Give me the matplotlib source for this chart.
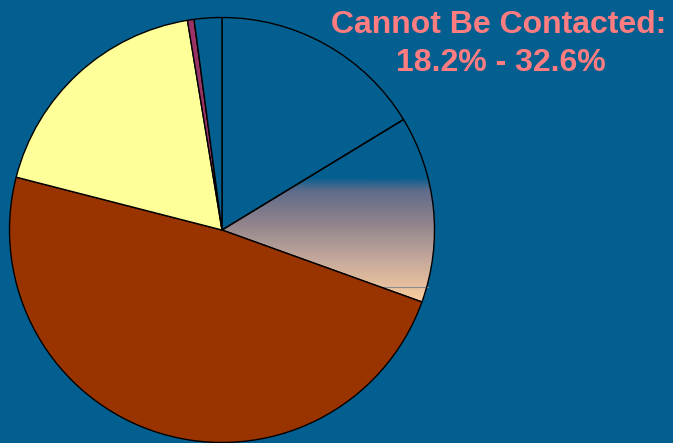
import matplotlib
matplotlib.use("Agg")
import matplotlib.pyplot as plt
import numpy as np
from matplotlib.colors import LinearSegmentedColormap

# slice shares in percent, clockwise from 12 o'clock
labels = ["Contacted A", "Cannot Be Contacted", "Other", "Refused", "Misc", "Unknown"]
shares = [16.3, 14.2, 48.5, 18.4, 0.5, 2.1]
colors = ["#035F8F", "#035F8F", "#993300", "#FFFF99", "#993366", "#035F8F"]

title_lines = ["Cannot Be Contacted:", "18.2% - 32.6%"]

bg = "#035F8F"
W, H = 673, 443

fig = plt.figure(figsize=(W / 100, H / 100), dpi=100, facecolor=bg)
ax = fig.add_axes([0, 0, 1, 1])
ax.set_facecolor(bg)

cx, cy, r = 222, H - 230, 212.5
wedges, _ = ax.pie(shares, colors=colors, startangle=90, counterclock=False,
                   center=(cx, cy), radius=r,
                   wedgeprops=dict(edgecolor="black", linewidth=1.0))

# gradient fill for the "cannot be contacted" slice
g = wedges[1]
g.set_facecolor("none")
cmap = LinearSegmentedColormap.from_list(
    "grad", [(0.0, "#035F8F"), (0.31, "#035F8F"), (0.38, "#5E6B8B"),
             (0.55, "#8E828C"), (0.75, "#C4A89C"), (1.0, "#FFD19E")])
y0, y1 = H - 120, H - 305  # top and bottom of slice in data coords
grad = np.linspace(0, 1, 256).reshape(-1, 1)
im = ax.imshow(grad, cmap=cmap, extent=[cx, cx + r + 2, y1, y0],
               origin="upper", aspect="auto", zorder=0.5)
im.set_clip_path(g)
g.set_zorder(1)

# thin line across the lower part of the gradient slice
ax.plot([377, 428], [H - 287, H - 287], color="#8C8C8C", linewidth=0.8, zorder=0.8)

ax.set_xlim(0, W)
ax.set_ylim(0, H)
ax.set_aspect("equal")
ax.axis("off")

fig.text(499 / W, 1 - 25 / H, title_lines[0], color="#FF7C80", fontsize=23,
         fontweight="bold", family="Liberation Sans", ha="center", va="center")
fig.text(501 / W, 1 - 63 / H, title_lines[1], color="#FF7C80", fontsize=23,
         fontweight="bold", family="Liberation Sans", ha="center", va="center")

fig.savefig("out.png", dpi=100, facecolor=bg)
